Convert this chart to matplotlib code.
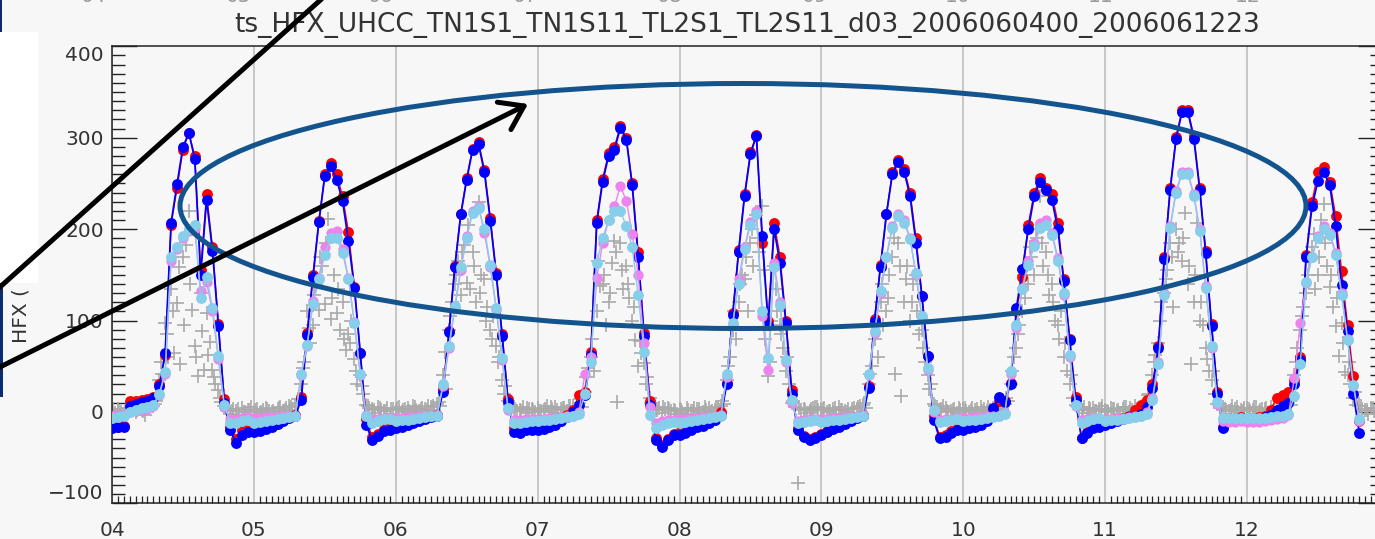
import numpy as np
import matplotlib
matplotlib.use("Agg")
import matplotlib.pyplot as plt
from matplotlib.ticker import MultipleLocator
from matplotlib.patches import Ellipse, Rectangle, FancyArrowPatch
from matplotlib.lines import Line2D

title = "ts_HFX_UHCC_TN1S1_TN1S11_TL2S1_TL2S11_d03_2006060400_2006061223"
day_labels = ["04", "05", "06", "07", "08", "09", "10", "11", "12"]
ytick_values = [-100, 0, 100, 200, 300, 400]
ytick_labels = ["\u2212100", "0", "100", "200", "300", "400"]

# hourly model HFX (W m-2), one row per day, starting 2006-06-04 00
red = [
    -17, -16, -15, 12, 12, 13, 14, 16, 30, 62, 205, 245, 287, 305, 280, 155, 238, 180, 96, 14, -17, -30, -20, -18,
    -18, -17, -16, -14, -12, -9, -6, -3, 16, 86, 150, 209, 260, 272, 260, 236, 197, 137, 64, -8, -28, -24, -19, -18,
    -15, -14, -12, -10, -9, -7, -5, -3, 25, 89, 160, 217, 256, 288, 295, 265, 212, 152, 85, 14, -18, -20, -18, -17,
    -17, -16, -14, -11, -7, -3, 2, 19, 22, 65, 210, 255, 283, 290, 313, 300, 250, 175, 86, 12, -29, -36, -30, -24,
    -22, -20, -18, -15, -13, -10, -7, 0, 32, 108, 177, 238, 284, 303, 185, 100, 207, 170, 100, 24, -18, -26, -30, -28,
    -24, -21, -18, -15, -12, -9, -6, -3, 28, 102, 161, 217, 262, 276, 266, 240, 190, 127, 61, -5, -27, -25, -21, -19,
    -18, -16, -14, -12, -9, 2, 12, 12, 32, 110, 148, 205, 240, 256, 245, 238, 207, 145, 80, 16, -29, -22, -17, -15,
    -12, -10, -9, -7, -5, 2, 8, 13, 30, 72, 170, 245, 301, 330, 330, 302, 245, 176, 96, 22, -16, -7, -7, -6,
    -8, -7, -6, -5, 2, 15, 19, 22, 35, 60, 172, 230, 262, 268, 252, 214, 154, 95, 39, -10,
]
blue = [
    -18, -17, -16, 6, 9, 11, 12, 15, 28, 64, 207, 249, 290, 305, 277, 150, 232, 176, 94, 10, -20, -34, -25, -22,
    -22, -21, -19, -16, -13, -10, -7, -4, 13, 84, 148, 208, 258, 269, 254, 231, 187, 136, 64, -14, -31, -26, -21, -20,
    -18, -16, -14, -12, -10, -8, -6, -5, 22, 87, 159, 216, 254, 287, 293, 262, 209, 150, 83, 11, -22, -23, -20, -20,
    -20, -19, -17, -14, -10, -6, 0, 8, 18, 62, 207, 252, 280, 287, 311, 298, 248, 170, 83, 8, -31, -38, -31, -25,
    -25, -23, -20, -17, -15, -12, -9, -3, 30, 106, 175, 236, 282, 302, 192, 95, 200, 163, 97, 20, -20, -27, -31, -29,
    -25, -22, -19, -16, -13, -10, -7, -4, 26, 100, 159, 216, 260, 273, 263, 236, 185, 127, 61, -9, -29, -27, -23, -20,
    -20, -18, -16, -14, -10, 4, 16, 11, 30, 114, 156, 200, 236, 252, 243, 232, 200, 143, 79, 13, -29, -23, -18, -16,
    -14, -12, -10, -8, -6, -4, -2, 5, 26, 70, 167, 243, 299, 328, 328, 299, 243, 174, 94, 20, -18, -8, -8, -7,
    -8, -8, -7, -6, -3, 2, 6, 10, 30, 57, 170, 225, 253, 262, 248, 203, 139, 88, 20, -23,
]
violet = [
    -4, -3, -3, 0, 1, 2, 3, 6, 18, 42, 165, 178, 190, 198, 200, 132, 142, 110, 58, 5, -8, -9, -7, -6,
    -7, -7, -6, -6, -6, -5, -5, -4, 40, 72, 121, 147, 180, 196, 198, 178, 146, 98, 40, -3, -9, -8, -7, -7,
    -7, -7, -6, -6, -5, -5, -4, -3, 28, 70, 114, 155, 192, 220, 225, 196, 158, 112, 57, 2, -9, -9, -8, -8,
    -8, -8, -7, -7, -6, -5, -4, 0, 42, 60, 147, 185, 210, 225, 247, 231, 195, 150, 75, 5, -12, -10, -9, -9,
    -8, -8, -7, -7, -6, -6, -5, -3, 38, 95, 145, 180, 208, 220, 105, 46, 163, 120, 55, 10, -10, -9, -8, -8,
    -8, -8, -7, -7, -6, -6, -5, -3, 40, 86, 130, 170, 203, 216, 210, 190, 150, 103, 46, 0, -9, -8, -8, -7,
    -7, -7, -6, -6, -5, -5, -4, -1, 42, 92, 136, 165, 185, 207, 210, 196, 168, 128, 60, 6, -9, -8, -7, -7,
    -8, -8, -7, -7, -6, -5, -4, 0, 15, 55, 130, 203, 242, 262, 262, 238, 200, 138, 70, 9, -10, -11, -11, -10,
    -11, -11, -11, -10, -9, -8, -7, -3, 37, 97, 141, 170, 192, 203, 196, 174, 130, 80, 28, -10,
]
sky = [
    -7, -6, -5, 0, 2, 4, 5, 8, 20, 44, 169, 180, 192, 200, 205, 125, 148, 114, 61, 8, -12, -12, -10, -9,
    -12, -11, -10, -9, -8, -7, -6, -5, 42, 73, 118, 145, 172, 190, 190, 174, 145, 97, 42, -5, -12, -10, -8, -8,
    -10, -9, -9, -8, -7, -6, -5, -4, 31, 72, 116, 158, 190, 218, 223, 200, 161, 114, 59, 4, -12, -12, -11, -10,
    -10, -9, -9, -8, -7, -6, -5, -2, 20, 55, 163, 190, 210, 220, 220, 203, 180, 128, 66, -3, -18, -14, -12, -11,
    -12, -11, -10, -9, -8, -7, -6, -4, 42, 97, 140, 178, 205, 217, 110, 59, 158, 117, 57, 13, -12, -11, -10, -9,
    -11, -10, -9, -9, -8, -7, -6, -4, 42, 88, 132, 169, 201, 214, 207, 189, 152, 105, 48, 2, -11, -10, -9, -8,
    -10, -9, -9, -8, -7, -6, -5, -2, 45, 95, 134, 161, 181, 201, 205, 194, 165, 130, 62, 8, -12, -10, -8, -7,
    -10, -9, -9, -8, -7, -6, -5, -2, 13, 52, 128, 201, 240, 260, 260, 236, 198, 136, 72, 11, -7, -7, -7, -7,
    -7, -7, -7, -7, -6, -5, -4, -2, 17, 52, 142, 170, 190, 200, 194, 172, 128, 79, 29, -8,
]
# half-hourly observations, station A (gray crosses)
obs = [
    2, -1, 3, 0, -2, 4, 1, 3, 0, 5, 2, -3, 4, 8, 6, 12, 35, 42, 97, 60, 134, 64, 119, 52,
    169, 183, 220, 112, 72, 39, 130, 46, 108, 77, 46, 31, 24, 11, 6, 2, -2, 3, 1, -3, 4, 0, 2, 5,
    0, 3, -1, 2, 4, 1, 0, -2, 3, 5, 1, 4, 6, 2, 8, 14, 30, 55, 110, 75, 95, 140, 112, 160,
    118, 211, 102, 150, 108, 90, 120, 68, 85, 100, 58, 31, 40, 20, 8, 4, 3, -1, 5, 2, 1, 4, -2, 3,
    2, 5, 0, 3, 4, -1, 6, 2, 1, 4, 3, 7, 5, 2, 9, 6, 40, 25, 90, 120, 140, 165, 128, 183,
    141, 135, 175, 120, 230, 150, 145, 115, 90, 105, 72, 60, 35, 28, 12, 6, 4, 1, 2, 5, -1, 3, 3, 0,
    4, 1, 2, 6, 0, 3, 5, -1, 3, 4, 1, 6, 7, 3, 10, 5, 22, 48, 60, 45, 110, 138, 140, 95,
    120, 163, 187, 11, 185, 135, 160, 125, 100, 79, 50, 64, 53, 38, 15, 7, 2, 4, -1, 3, 4, 1, 2, -2,
    3, 0, -2, 2, 1, 4, 3, -1, 0, 2, 4, 1, 2, 5, 6, 9, 35, 60, 90, 80, 120, 150, 145, 110,
    185, 160, 215, 175, 225, 80, 39, 100, 160, 110, 95, 70, 45, 30, 10, 5, -78, 2, 3, -1, 1, 4, 5, 2,
    2, 4, 0, 1, 3, -2, 5, 2, 1, 3, -1, 4, 3, 6, 8, 4, 30, 50, 80, 60, 120, 95, 110, 150,
    170, 42, 185, 17, 120, 160, 100, 140, 150, 85, 90, 55, 40, 30, 9, 5, 2, 6, 4, 0, 1, 3, -1, 2,
    3, 1, 0, 4, 2, -1, 5, 3, 1, 2, 4, 0, 6, 3, 9, 12, 30, 60, 70, 95, 110, 125, 140, 170,
    150, 190, 236, 160, 175, 128, 140, 100, 95, 110, 60, 45, 30, 15, 8, 3, 2, 5, -1, 3, 4, 1, 3, 6,
    2, 0, 4, 3, 1, -2, 3, 5, 0, 2, 6, 1, 4, 8, 12, 20, 40, 62, 75, 120, 130, 155, 185, 115,
    200, 185, 165, 218, 140, 52, 120, 207, 100, 95, 70, 45, 35, 20, 9, 4, 5, 2, 1, 6, 3, 0, 2, 4,
    4, 1, 2, 5, 0, 3, 3, -1, 5, 2, 1, 4, 6, 3, 10, 8, 40, 70, 90, 115, 130, 165, 180, 135,
    150, 210, 227, 160, 137, 115, 94, 61, 97, 44, 40, 30, 15, 8, 6, 3, 2, -2, 4, 1,
]
# hourly observations, station B (gray crosses, taken at quarter past)
obs_b = [
    3, 1, 0, 4, 2, 1, 5, 9, 55, 85, 110, 158, 95, 140, 60, 88, 62, 38, 15, 4, 1, 3, 0, 2,
    2, 0, 3, 1, 4, 2, 5, 10, 48, 92, 128, 170, 185, 125, 135, 80, 75, 45, 28, 6, 2, 4, 1, 3,
    4, 2, 1, 5, 3, 2, 6, 11, 65, 105, 150, 175, 205, 160, 130, 100, 80, 55, 20, 8, 3, 1, 4, 2,
    1, 3, 5, 2, 4, 6, 3, 14, 38, 80, 165, 150, 130, 175, 155, 140, 115, 78, 30, 10, 2, 5, 3, 1,
    2, 4, 1, 3, 5, 0, 4, 12, 50, 110, 140, 170, 200, 190, 155, 55, 135, 85, 60, 12, 4, 2, 3, 5,
    3, 1, 4, 2, 0, 3, 5, 10, 42, 95, 140, 125, 190, 160, 145, 120, 110, 70, 25, 7, 3, 1, 2, 4,
    4, 2, 3, 1, 5, 2, 4, 15, 45, 85, 150, 180, 200, 185, 150, 120, 80, 75, 40, 6, 2, 4, 1, 3,
    1, 3, 2, 5, 4, 3, 6, 18, 55, 100, 145, 170, 175, 190, 160, 150, 120, 58, 45, 9, 3, 2, 5, 1,
    3, 5, 2, 4, 1, 3, 6, 12, 55, 105, 150, 195, 170, 185, 150, 125, 75, 55, 22, 7, 2, 4,
]

hours = np.arange(len(blue))
obs_hours = np.arange(len(obs)) * 0.5
obs_b_hours = np.arange(len(obs_b)) + 0.25

W, H = 1375, 539
fig = plt.figure(figsize=(W / 100, H / 100), dpi=100, facecolor="#f7f7f7")
ax = fig.add_axes([112 / W, 35.7 / H, 1271 / W, 457 / H])
ax.set_facecolor("#f7f7f7")

ax.plot(obs_hours, obs, "+", color="#aaaaaa", ms=9.5, mew=1.2, zorder=2)
ax.plot(obs_b_hours, obs_b, "+", color="#aaaaaa", ms=9.5, mew=1.2, zorder=2)
ax.plot(hours, red, "-o", color="red", lw=1.0, ms=6.8, zorder=3)
ax.plot(hours, blue, "-o", color="blue", lw=1.3, ms=6.8, zorder=4)
ax.plot(hours, violet, "-o", color="violet", lw=1.0, ms=6.4, zorder=5)
ax.plot(hours, sky, "-o", color="skyblue", lw=1.0, ms=6.8, zorder=6)

ax.set_xlim(0, 215)
ax.set_ylim(-100, 400)
ax.set_xticks(np.arange(0, 24 * len(day_labels), 24), day_labels)
ax.xaxis.set_minor_locator(MultipleLocator(1))
ax.set_yticks(ytick_values, ytick_labels)
ax.yaxis.set_minor_locator(MultipleLocator(10))

ax.tick_params(axis="x", which="major", length=0, pad=13, labelsize=14.5, labelcolor="#333333")
ax.tick_params(axis="x", which="minor", direction="in", length=5, width=0.9, color="#222222",
               bottom=True, top=False)
ax.tick_params(axis="y", which="both", direction="in", left=True, right=True, width=1.0, color="#222222")
ax.tick_params(axis="y", which="major", length=18, pad=6, labelsize=14.5, labelcolor="#333333")
ax.tick_params(axis="y", which="minor", length=9.4)
yt = ax.yaxis.get_major_ticks()
yt[0].label1.set_verticalalignment("bottom")
yt[-1].label1.set_verticalalignment("top")

ax.grid(axis="x", which="major", color="#c4c4c4", lw=1.3)
ax.set_axisbelow(True)
for s in ax.spines.values():
    s.set_linewidth(1.1)
    s.set_color("#222222")

fig.text(747 / W, 1 - 25 / H, title, ha="center", va="center", fontsize=19, color="#333333")
fig.text(21 / W, 1 - 343 / H, "HFX (", rotation=90, ha="center", va="bottom",
         fontsize=14.5, color="#333333")

# bottoms of the tick labels of the panel above, cut by the screenshot edge
for lab, xp in zip(day_labels, [93, 238, 380, 525, 670, 814, 958, 1101, 1248]):
    fig.text(xp / W, 1 - 2 / H, lab, ha="center", va="baseline", fontsize=14.5, color="#999999")


def px(x, y):
    return (x / W, 1 - y / H)


# slide overlays
fig.add_artist(Rectangle(px(0, 283), 38 / W, 251 / H, transform=fig.transFigure,
                         facecolor="white", edgecolor="none", zorder=10))
fig.add_artist(Rectangle(px(0, 32), 2 / W, 32 / H, transform=fig.transFigure,
                         facecolor="#0b2c6e", edgecolor="none", zorder=10))
fig.add_artist(Rectangle(px(0, 397), 3 / W, 114 / H, transform=fig.transFigure,
                         facecolor="#0b2c6e", edgecolor="none", zorder=10))

(x0, y0), (x1, y1) = px(-5, 291.5), px(326, -5)
fig.add_artist(Line2D([x0, x1], [y0, y1], transform=fig.transFigure, color="black",
                      lw=3.6, solid_capstyle="round", zorder=12))
fig.add_artist(FancyArrowPatch(px(-5, 369.5), px(528, 104), transform=fig.transFigure,
                               arrowstyle="->,head_length=0.8,head_width=0.55", mutation_scale=20,
                               color="black", lw=3.6, shrinkA=0, shrinkB=0,
                               capstyle="round", joinstyle="round", zorder=12))
fig.add_artist(Ellipse(px(743, 206), 1126 / W, 245 / H, transform=fig.transFigure,
                       fill=False, edgecolor="#13548f", lw=3.6, zorder=11))

fig.savefig("out.png", dpi=100, facecolor=fig.get_facecolor())
